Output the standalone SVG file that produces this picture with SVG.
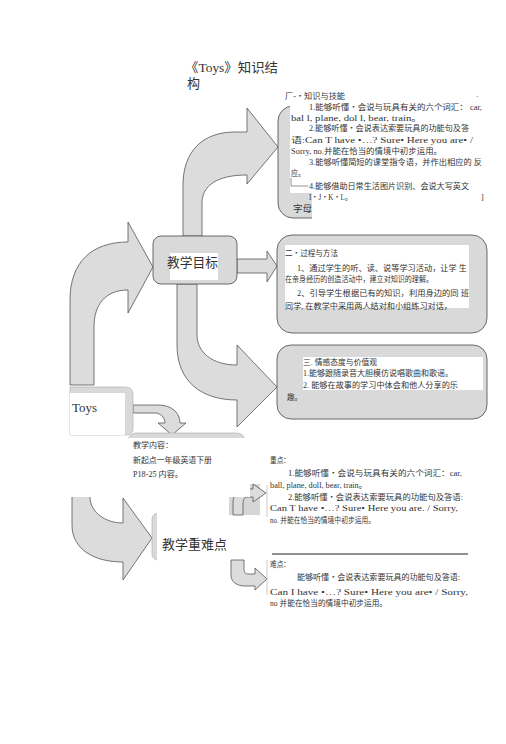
<svg xmlns="http://www.w3.org/2000/svg" width="506" height="744" viewBox="0 0 506 744">
<style>
.t{font-family:"Liberation Serif","Noto Sans CJK SC",serif;fill:#333}
.s8{font-size:8px}
.big{font-family:"Noto Sans CJK SC",sans-serif;font-size:13px;fill:#333}
.box{fill:#d9d9d9;stroke:#5a5a5a;stroke-width:0.9}
.arr{fill:#dcdcdc;stroke:#555;stroke-width:0.8;stroke-linejoin:round}
.wh{fill:#fff}
.thin{fill:none;stroke:#bbb;stroke-width:0.8}
</style>
<rect width="506" height="744" fill="#fff"/>

<g id="title">
<text class="t" x="185" y="72" font-size="13" textLength="93" lengthAdjust="spacingAndGlyphs">《Toys》知识结</text>
<text class="t" x="187" y="88" font-size="13">构</text>
</g>

<g id="connectors">
<path class="arr" d="M183,236 L183,185 C183,152 202,132 235,132 L247,132 L247,108 L278,147 L247,184 L247,175 C218,175 202,185 202,203 L202,236 Z"/>
<path class="arr" d="M237,259 L267,259 L267,251 L277,266 L267,282 L267,273 L237,273 Z"/>
<path class="arr" d="M177,284 L177,345 C177,382 202,400 237,400 L237,427 L277,387 L237,345 L237,365 C212,365 197,352 197,335 L197,284 Z"/>
<path class="arr" d="M70,385 L70,300 C70,262 92,242 128,242 L128,222 L153,267 L128,313 L128,290 C105,290 94,305 94,327 L94,385 Z"/>
<path class="arr" d="M133,405 L158,405 C172,405 180,413 180,423 L186,423 L172,435 L158,423 L165,423 C165,417 160,413 155,413 L133,413 Z"/>
<path fill="#dcdcdc" d="M72,497 L72,525 C72,550 95,562 123,562 L123,580 L152,538 L123,498 L123,523 C105,523 90,512 90,497 Z"/>
<path fill="none" stroke="#555" stroke-width="0.8" d="M72,497 L72,525 C72,550 95,562 123,562 L123,580 L152,538 L123,498 L123,523 C105,523 90,512 90,497"/>
<rect x="229" y="484" width="31" height="31" fill="#d6d6d6"/>
<path class="arr" d="M233,515 L233,502 C233,494 240,489 250,489 L253,489 L253,484 L266,493 L253,502 L253,497 L248,497 C244,497 243,500 243,504 L243,515 Z"/>
<path class="arr" d="M231,560 L231,575 C231,582 237,586 245,586 L255,586 L255,590 L267,579 L255,568 L255,574 L248,574 C245,574 244,572 244,568 L244,560 Z"/>
<line class="thin" x1="267" y1="485" x2="267" y2="517"/>
<line class="thin" x1="267" y1="560" x2="267" y2="595"/>
</g>

<g id="node-goal">
<rect class="box" x="153" y="236" width="84" height="48" rx="8"/>
<rect class="wh" x="170" y="253" width="48" height="27"/>
<text class="big" x="167" y="267" textLength="51" lengthAdjust="spacingAndGlyphs">教学目标</text>
</g>

<g id="node-toys">
<path fill="#d9d9d9" stroke="#aaa" stroke-width="0.6" d="M70,387 L125,387 Q133,387 133,395 L133,428 Q133,435 126,435 L70,435 Z"/>
<rect class="wh" x="70" y="393" width="55" height="42"/>
<text class="t" x="72" y="412" font-size="13" textLength="25" lengthAdjust="spacingAndGlyphs">Toys</text>
</g>

<g id="node-content">
<rect fill="#d9d9d9" stroke="#aaa" stroke-width="0.6" x="128" y="433" width="117" height="30" rx="8"/>
<rect class="wh" x="100" y="438" width="150" height="59"/>
<text class="t s8" x="133" y="448" textLength="40" lengthAdjust="spacingAndGlyphs">教学内容：</text>
<text class="t s8" x="133" y="463" textLength="79" lengthAdjust="spacingAndGlyphs">新起点一年级英语下册</text>
<text class="t s8" x="133" y="477" textLength="50" lengthAdjust="spacingAndGlyphs">P18-25  内容。</text>
</g>

<g id="node-keypoints">
<rect fill="#d9d9d9" stroke="#aaa" stroke-width="0.6" x="152" y="513" width="60" height="47" rx="6"/>
<rect class="wh" x="157" y="510" width="70" height="53"/>
<text class="big" x="162" y="549" textLength="65" lengthAdjust="spacingAndGlyphs">教学重难点</text>
</g>

<g id="node-knowledge">
<rect class="box" x="278" y="106" width="209" height="112" rx="15"/>
<rect class="wh" x="290" y="88" width="206" height="105"/>
<rect class="wh" x="312" y="193" width="184" height="27"/>
<text class="t s8" x="285" y="99" textLength="60" lengthAdjust="spacingAndGlyphs">厂-・知识与技能</text>
<text class="t s8" x="476" y="99">·</text>
<text class="t s8" x="309" y="110" textLength="173" lengthAdjust="spacingAndGlyphs">1.能够听懂・会说与玩具有关的六个词汇： car,</text>
<text class="t s8" x="291" y="121" textLength="131" lengthAdjust="spacingAndGlyphs">bal l, plane, dol l, bear, train。</text>
<text class="t s8" x="309" y="131" textLength="160" lengthAdjust="spacingAndGlyphs">2.能够听懂・会说表达索要玩具的功能句及答</text>
<text class="t s8" x="291" y="143" textLength="182" lengthAdjust="spacingAndGlyphs">语:Can T have  •…? Sure•  Here you are•  /</text>
<text class="t s8" x="291" y="154" textLength="151" lengthAdjust="spacingAndGlyphs">Sorry, no.并能在恰当的情境中初步运用。</text>
<text class="t s8" x="309" y="165" textLength="173" lengthAdjust="spacingAndGlyphs">3.能够听懂简短的课堂指令语，并作出相应的 反</text>
<text class="t s8" x="291" y="176" textLength="14" lengthAdjust="spacingAndGlyphs">应。</text>
<polyline fill="none" stroke="#666" stroke-width="0.7" points="291,178 291,186 308,186"/>
<text class="t s8" x="309" y="189" textLength="160" lengthAdjust="spacingAndGlyphs">4.能够借助日常生活图片识别、会说大写英文</text>
<text class="t s8" x="309" y="200" textLength="43" lengthAdjust="spacingAndGlyphs">I・J・K・L。</text>
<text class="t s8" x="481" y="200">]</text>
<text class="t" x="293" y="212" font-size="9" textLength="19" lengthAdjust="spacingAndGlyphs">字母</text>
</g>

<g id="node-process">
<rect class="box" x="277" y="235" width="210" height="98" rx="15"/>
<rect class="wh" x="285" y="245" width="184" height="63"/>
<text class="t s8" x="285" y="256" textLength="53" lengthAdjust="spacingAndGlyphs">二・过程与方法</text>
<text class="t s8" x="297" y="271" textLength="170" lengthAdjust="spacingAndGlyphs">1、通过学生的听、读、说等学习活动，让学 生</text>
<text class="t s8" x="285" y="282" textLength="148" lengthAdjust="spacingAndGlyphs">在亲身经历的创造活动中，建立对知识的理解。</text>
<text class="t s8" x="297" y="296" textLength="172" lengthAdjust="spacingAndGlyphs">2、引导学生根据已有的知识，利用身边的同 班</text>
<text class="t s8" x="285" y="309" textLength="167" lengthAdjust="spacingAndGlyphs">同学, 在教学中采用两人结对和小组练习对话，</text>
</g>

<g id="node-attitude">
<rect class="box" x="277" y="345" width="210" height="74" rx="14"/>
<rect class="wh" x="303" y="357" width="180" height="33"/>
<text class="t s8" x="303" y="365" textLength="74" lengthAdjust="spacingAndGlyphs">三. 情感态度与价值观</text>
<text class="t s8" x="303" y="376" textLength="150" lengthAdjust="spacingAndGlyphs">1.能够跟随录音大胆模仿说唱歌曲和歌谣。</text>
<text class="t s8" x="303" y="388" textLength="155" lengthAdjust="spacingAndGlyphs">2. 能够在故事的学习中体会和他人分享的乐</text>
<text class="t" x="287" y="400" font-size="8.5" textLength="15" lengthAdjust="spacingAndGlyphs">趣。</text>
</g>

<g id="node-key">
<text class="t s8" x="270" y="463" textLength="20" lengthAdjust="spacingAndGlyphs">重点：</text>
<text class="t s8" x="288" y="476" textLength="174" lengthAdjust="spacingAndGlyphs">1.能够听懂・会说与玩具有关的六个词汇：car,</text>
<text class="t s8" x="270" y="488" textLength="97" lengthAdjust="spacingAndGlyphs">ball, plane, doll, bear, train。</text>
<text class="t s8" x="288" y="500" textLength="175" lengthAdjust="spacingAndGlyphs">2.能够听懂・会说表达索要玩具的功能句及答语:</text>
<text class="t s8" x="270" y="511" textLength="188" lengthAdjust="spacingAndGlyphs">Can T have  •…? Sure•  Here you are. / Sorry,</text>
<text class="t s8" x="270" y="523" textLength="105" lengthAdjust="spacingAndGlyphs">no. 并能在恰当的情境中初步运用。</text>
</g>

<g id="node-difficult">
<line x1="272" y1="554" x2="468" y2="554" stroke="#222" stroke-width="1"/>
<text class="t s8" x="270" y="567" textLength="20" lengthAdjust="spacingAndGlyphs">难点：</text>
<text class="t s8" x="297" y="580" textLength="163" lengthAdjust="spacingAndGlyphs">能够听懂・会说表达索要玩具的功能句及答语:</text>
<text class="t s8" x="270" y="595" textLength="198" lengthAdjust="spacingAndGlyphs">Can I have  •…? Sure•  Here you are•  / Sorry,</text>
<text class="t s8" x="270" y="606" textLength="117" lengthAdjust="spacingAndGlyphs">no 并能在恰当的情境中初步运用。</text>
</g>
</svg>
